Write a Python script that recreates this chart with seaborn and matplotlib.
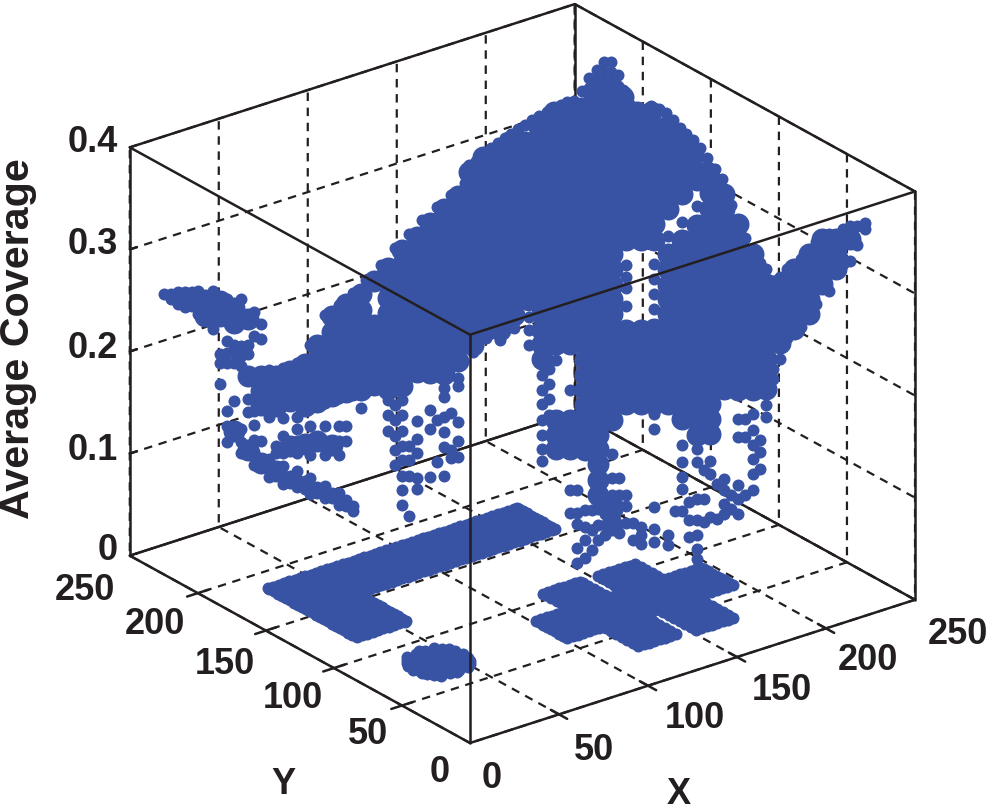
"""Average coverage over the X-Y field, drawn as a MATLAB-style 3D point cloud."""
import matplotlib
matplotlib.use("Agg")
import matplotlib.pyplot as plt
from mpl_toolkits.mplot3d import proj3d
import numpy as np
import pandas as pd
import seaborn as sns

x_ticks = [0, 50, 100, 150, 200, 250]
y_ticks = [0, 50, 100, 150, 200, 250]
z_ticks = [0, 0.1, 0.2, 0.3, 0.4]
x_tick_labels = ["0", "50", "100", "150", "200", "250"]
y_tick_labels = ["0", "50", "100", "150", "200", "250"]
z_tick_labels = ["0", "0.1", "0.2", "0.3", "0.4"]

# points on the floor (coverage 0): the L wall, the round post and the hash
arm_x = [28, 31, 34, 37, 40, 43, 46, 49, 52, 55, 58, 61, 64, 67, 70, 73, 76, 79, 82, 85, 88, 91, 94, 97, 100, 103, 106, 109, 112,
         115, 118, 121, 124, 127, 130, 133, 136, 139, 142, 145, 148, 151, 154, 157, 160, 163, 166, 168]
arm_y = [157, 160, 163, 166, 169, 172, 175, 178, 181, 184, 185]
foot_x = [28, 31, 34, 37, 40, 43, 46, 49, 52, 55, 56]
foot_y = [120, 123, 126, 129, 132, 135, 138, 141, 144, 147, 150, 153, 156]
bar1_x = [122, 125, 128, 131, 134, 137, 140, 143]
bar1_y = [36, 40, 44, 48, 52, 56, 60, 64, 68, 72, 76, 80, 84, 88, 92, 96, 100, 104, 106]
bar2_x = [153, 156, 159, 162, 165, 168, 171, 174]
bar2_y = [34, 38, 42, 46, 50, 54, 58, 62, 66, 70, 74, 78, 82, 86, 90, 94, 98, 102, 106]
cross_x = [102, 105, 108, 111, 114, 117, 120, 123, 126, 129, 132, 135, 138, 141, 144, 147, 150, 153, 156, 159, 162, 165, 168,
           171, 174, 177, 180, 183, 186, 189, 192, 195]
cross_y = [62, 65, 68, 71, 74, 77, 80, 83, 85]
post_x = [41, 31, 36, 41, 46, 51, 28, 31, 36, 41, 46, 51, 54, 27, 31, 36, 41, 46, 51, 55, 28, 31, 36, 41, 46, 51, 54, 31, 36, 41, 46, 51, 41,
          33, 38, 43, 48, 29, 33, 38, 43, 48, 53, 29, 33, 38, 43, 48, 53, 29, 33, 38, 43, 48, 53, 29, 33, 38, 43, 48, 53, 33, 38, 43, 48]
post_y = [63, 67, 67, 67, 67, 67, 72, 72, 72, 72, 72, 72, 72, 77, 77, 77, 77, 77, 77, 77, 82, 82, 82, 82, 82, 82, 82, 87, 87, 87, 87, 87, 91,
          64.5, 64.5, 64.5, 64.5, 69.5, 69.5, 69.5, 69.5, 69.5, 69.5, 74.5, 74.5, 74.5, 74.5, 74.5, 74.5,
          79.5, 79.5, 79.5, 79.5, 79.5, 79.5, 84.5, 84.5, 84.5, 84.5, 84.5, 84.5, 89.5, 89.5, 89.5, 89.5]

# front transect through the cloud
front_x = [0, 5, 10, 15, 20, 25, 30, 35, 40, 45, 50, 55, 60, 65, 70, 75, 80, 85, 90, 95, 100, 105, 110, 115, 120,
           125, 130, 135, 140, 145, 150, 155, 160, 165, 170, 175, 180, 185, 190, 195, 200, 205, 210, 215, 220, 225, 230, 235, 240, 245, 250]
front_y = [225, 221, 217, 214, 210, 206, 202, 199, 195, 191, 187, 184, 180, 176, 172, 169, 165, 161, 157, 154, 150, 146, 142, 139, 135,
           131, 127, 124, 120, 116, 112, 109, 105, 101, 97, 94, 90, 86, 82, 79, 75, 71, 67, 64, 60, 56, 52, 49, 45, 41, 37]
# dense parts of each column
front_dense = [
    [], [], [.268], [.268, .253], [.268, .253], [.261, .246, .14], [.25, .194, .122],
    [.194, .179, .165, .109], [.194, .179, .165, .101], [.199, .184, .17, .125], [.206, .191, .176, .165, .128],
    [.224, .209, .194, .179, .168, .13], [.252, .237, .223, .208, .193, .179, .174, .126],
    [.264, .249, .234, .22, .205, .19, .178], [.274, .259, .244, .229, .215, .2, .185, .18],
    [.286, .243, .228, .214, .199, .185], [.299, .284, .27, .255, .24, .225, .211, .196, .181],
    [.317, .302, .287, .272, .258, .243, .228, .214, .199, .184],
    [.33, .316, .301, .286, .272, .257, .242, .228, .213, .198],
    [.343, .328, .314, .299, .284, .269, .255, .24, .225, .211, .196],
    [.357, .342, .327, .313, .298, .283, .268, .254, .239, .224, .21, .195],
    [.37, .355, .34, .325, .311, .296, .281, .267, .252, .237, .223, .208],
    [.385, .371, .356, .341, .326, .312, .297, .282, .268, .253, .238, .224],
    [.385, .371, .356, .341, .326, .312, .297, .282, .268, .253, .238],
    [.385, .371, .356, .341, .326, .312, .297, .282, .268, .253, .238],
    [.385, .371, .356, .341, .326, .312, .297, .282, .268, .253],
    [.385, .371, .356, .341, .326, .312, .297, .282, .268],
    [.385, .371, .356, .341, .326, .312, .297, .282, .268, .253, .238, .224, .209],
    [.385, .371, .356, .341, .326, .312, .297, .282, .268, .253, .238, .224, .15, .135, .121],
    [.385, .371, .356, .341, .326, .312, .297, .282, .268, .253, .238, .224, .15, .135, .121],
    [.385, .371, .356, .341, .326, .312, .297, .282, .268, .253, .238, .224, .209, .194, .179, .165, .15, .135, .121],
    [.385, .371, .356, .341, .326, .312, .297, .282, .268, .253, .238, .224, .209, .194, .179, .165, .15, .135, .121, .106, .091, .076],
    [.385, .371, .356, .341, .326, .312, .297, .282, .268, .253, .238, .224, .209, .194, .179, .165, .15, .062, .047],
    [.385, .371, .356, .341, .326, .238, .224, .209, .194, .179, .165],
    [.385, .371, .356, .341, .326, .238, .224, .209, .194, .179, .165],
    [.385, .371, .356, .341, .326, .238, .224, .209, .194, .179, .165],
    [.385, .371, .356, .312, .297, .282, .268, .253, .238, .224, .209, .194, .179, .165],
    [.385, .371, .326, .312, .297, .282, .268, .253, .238, .224, .209, .194, .179, .165, .15],
    [.385, .341, .326, .312, .297, .282, .268, .253, .238, .224, .209, .194, .179, .165, .15, .135],
    [.385, .371, .356, .341, .326, .312, .297, .282, .268, .253, .238, .224, .209, .194, .179, .165, .15, .135],
    [.371, .356, .341, .326, .312, .297, .282, .268, .253, .238, .224, .209, .194, .179],
    [.341, .326, .312, .297, .282, .268, .253, .238, .224, .209, .194, .179],
    [.312, .297, .282, .268, .253, .238, .224, .209, .194, .179],
    [.282, .268, .253, .238, .224, .209, .194, .179],
    [.282, .268, .253, .238, .224],
    [.297, .282, .268, .253, .238],
    [.312, .297, .282, .268, .253],
    [.326, .312, .297, .282],
    [.326, .312, .297],
    [.326],
    [],
]
# single points of each column
front_single = [
    [.275], [.277, .27, .265], [.277], [], [.216, .207, .186], [.225, .217, .207, .17], [.225, .216, .172, .159],
    [.245, .23, .13], [.125, .118], [.096, .089], [.091, .083], [.085, .079], [.079, .074],
    [.145, .13, .072, .066], [.163], [], [.17, .155, .14], [.17, .155, .14, .125, .111, .096, .082, .067],
    [.15, .132, .118, .094, .083], [.16, .141, .094], [.182, .173, .153, .138, .124, .095],
    [.191, .184, .148, .13, .114], [.217], [.23], [.228], [.24], [.251, .238, .224],
    [.194, .179, .165, .15, .135, .121, .109], [.209], [.179, .081, .059], [.062, .045, .032, .015], [.062, .047, .032],
    [.116, .093, .076], [.302, .29, .279, .261, .076, .065, .049], [.045, .037, .028],
    [.302, .287, .273, .258, .155, .14, .064, .042, .03], [.33, .037, .027], [.343, .125, .108, .094, .082, .06],
    [.359, .121, .108, .072, .052, .037, .023, .013], [.109, .096, .054], [.091, .081, .067, .057],
    [.15, .133, .086, .072, .057], [.155, .14, .125, .111, .096, .081], [.297, .163, .152],
    [.289, .209], [], [], [.33], [], [.339, .305], [.342, .336],
]

# extra points between the front columns
between_x = [2.5, 7.5, 12.5, 17.5, 22.5, 27.5, 32.5, 37.5, 42.5, 47.5, 52.5, 57.5, 62.5, 67.5, 72.5, 77.5, 82.5, 87.5, 92.5, 97.5,
             102.5, 107.5, 137.5, 147.5, 152.5, 157.5, 162.5, 167.5, 182.5, 187.5, 192.5, 197.5, 202.5, 207.5, 212.5, 217.5,
             222.5, 227.5, 232.5, 237.5, 242.5, 247.5]
between_y = [223, 219, 216, 212, 208, 204, 201, 197, 193, 189, 186, 182, 178, 174, 171, 167, 163, 159, 156, 152,
             148, 144, 122, 114, 110, 107, 103, 99, 88, 84, 80, 77, 73, 69, 65, 62,
             58, 54, 50, 47, 43, 39]
between_single = [
    [.275, .27], [.277, .27, .262], [.277, .267, .255], [.277, .262, .24], [.27, .228, .217, .207, .16, .145, .13],
    [.27, .224, .214, .204, .142, .13, .119], [.256, .233, .159, .146, .131, .119, .107], [.2, .154, .113, .103, .095],
    [.202, .153, .135, .119, .106, .096, .088], [.207, .154, .142, .13, .119, .101, .093, .085],
    [.224, .162, .145, .13, .116, .094, .086, .078], [.253, .167, .145, .13, .116, .086, .079, .074],
    [.263, .172, .145, .13, .116, .079, .074, .067], [.275, .175, .067, .062], [.287], [.302],
    [.319, .165, .15, .135, .121, .106], [.333, .125, .111, .096, .057], [.346], [.359, .15, .109],
    [.371, .157, .121, .113], [.383], [.218, .2, .185, .17, .155], [.081, .059, .048, .025, .01], [.062, .042, .023],
    [.072, .057, .047, .037], [.093, .076, .065, .039], [.049, .032], [.06], [.069, .052, .035], [.101, .072, .05],
    [.086, .052], [.36, .076, .062], [.328, .15, .133, .076], [.303, .13, .118, .101], [.285, .199, .189],
    [.297, .229], [.307, .24], [.324, .263], [.331, .275], [.336, .302], [.339, .32],
]

# back transect, the ridge above the front columns
back_x = [160, 165, 170, 175, 180, 185, 190, 195, 200, 205, 210, 215, 220, 225, 230, 235, 240, 245, 250]
back_y = [210, 206, 202, 199, 195, 191, 187, 184, 180, 176, 172, 169, 165, 161, 157, 153, 150, 146, 142]
back_dense = [
    [.315], [.33, .315], [.33, .315], [.345, .33, .315], [.345, .33, .315], [.359, .345, .33, .315],
    [.374, .359, .345, .33, .315], [.374, .359, .345, .33, .315], [.374, .359, .345, .33, .315],
    [.388, .374, .359, .345, .33, .315], [.388, .374, .359, .345, .33, .315], [.388, .374, .359, .345, .33, .315],
    [.374, .359, .345, .33, .315], [.374, .359, .345, .33, .315], [.359, .345, .33, .315],
    [.345, .33, .315], [.33, .315], [.315], [],
]
back_single = [
    [.318, .322], [.334], [.344], [.352], [.361], [.37], [.378], [.383], [.383], [.4], [.4], [.395],
    [.377], [.38], [.373], [.358], [.346], [.328], [.308],
]
back_edge_x = [162.5, 167.5, 172.5, 177.5, 182.5, 187.5, 192.5, 197.5, 212.5, 217.5, 222.5, 227.5, 232.5, 237.5, 242.5, 247.5]
back_edge_y = [208, 204, 200, 197, 193, 189, 185, 182, 170, 167, 163, 159, 155, 152, 148, 144]
back_edge_z = [.326, .339, .349, .357, .366, .374, .381, .384, .396, .38, .376, .377, .366, .352, .338, .318]

# the narrow peak behind the ridge
peak_x = [217.5, 220, 222.5, 225, 227.5, 230, 232.5]
peak_y = [202, 200, 198, 196, 194, 192, 190]
peak_single = [
    [.368], [.381, .371, .362], [.389, .379, .37, .36], [.397, .387, .377, .368],
    [.397, .387, .377, .368], [.384, .374, .365], [.368],
]


def columns_to_frame(xs, ys, zs, kind):
    """One row per point from per-column z lists."""
    rows = [(x, y, z, kind) for x, y, col in zip(xs, ys, zs) for z in col]
    return pd.DataFrame(rows, columns=["x", "y", "z", "kind"])


def floor_to_frame(xs, ys):
    """Floor points: every x of a block paired with every y, coverage 0."""
    gx, gy = np.meshgrid(xs, ys)
    return pd.DataFrame({"x": gx.ravel(), "y": gy.ravel(), "z": 0.0, "kind": "single"})


cloud = pd.concat([
    floor_to_frame(arm_x, arm_y),
    floor_to_frame(foot_x, foot_y),
    floor_to_frame(bar1_x, bar1_y),
    floor_to_frame(bar2_x, bar2_y),
    floor_to_frame(cross_x, cross_y),
    pd.DataFrame({"x": post_x, "y": post_y, "z": 0.0, "kind": "single"}),
    columns_to_frame(front_x, front_y, front_dense, "dense"),
    columns_to_frame(front_x, front_y, front_single, "single"),
    columns_to_frame(between_x, between_y, between_single, "single"),
    columns_to_frame(back_x, back_y, back_dense, "dense"),
    columns_to_frame(back_x, back_y, back_single, "single"),
    pd.DataFrame({"x": back_edge_x, "y": back_edge_y, "z": back_edge_z, "kind": "single"}),
    columns_to_frame(peak_x, peak_y, peak_single, "single"),
], ignore_index=True)

sns.set_theme(style="white")
plt.rcParams["font.family"] = ["Liberation Sans", "DejaVu Sans"]
blue = sns.color_palette(["#3953A4"])[0]
ink = "#231F20"

W, H = 989, 811
fig = plt.figure(figsize=(W / 100, H / 100), dpi=100, facecolor="white")
ax = fig.add_axes([0, 0, 1, 1], projection="3d", computed_zorder=False)
ax.set_proj_type("ortho")
ax.view_init(elev=24.9, azim=-127.4)
ax.set_box_aspect((560, 560, 450), zoom=1.0)
ax.set_xlim(0, 250)
ax.set_ylim(0, 250)
ax.set_zlim(0, 0.4)
ax.set_xticks(x_ticks)
ax.set_yticks(y_ticks)
ax.set_zticks(z_ticks)
ax.set_xticklabels([])
ax.set_yticklabels([])
ax.set_zticklabels([])
ax.patch.set_alpha(0)

for axis in (ax.xaxis, ax.yaxis, ax.zaxis):
    axis.pane.set_fill(False)
    axis.pane.set_edgecolor((1, 1, 1, 0))
    axis.line.set_color((1, 1, 1, 0))
    axis._axinfo["tick"]["inward_factor"] = 0
    axis._axinfo["tick"]["outward_factor"] = 0
    axis._axinfo["grid"].update(color=ink, linewidth=1.6, linestyle=(0, (3.8, 3)))

# move the square axes so the box lands where it should in the figure


def to_px(x, y, z):
    px, py, _ = proj3d.proj_transform(x, y, z, ax.get_proj())
    return ax.transData.transform((px, py))


fig.canvas.draw()
o = to_px(0, 0, 0)
ex = to_px(250, 0, 0)
scale = 445 / (ex[0] - o[0])
pos = ax.get_position()
side = pos.width * scale
ax.set_position([0, 0, side, side * W / H])
fig.canvas.draw()
o = to_px(0, 0, 0)
ax.set_position([(470 - o[0]) / W, ((H - 743) - o[1]) / H, side, side * W / H])

# the box: back edges stay behind the cloud, front edges go over it
back_edges = [
    ((0, 250), (250, 250), (0, 0)), ((250, 250), (0, 250), (0, 0)),
    ((250, 250), (250, 250), (0, 0.4)), ((0, 250), (250, 250), (0.4, 0.4)), ((250, 250), (0, 250), (0.4, 0.4)),
]
front_edges = [
    ((0, 250), (0, 0), (0, 0)), ((0, 0), (0, 250), (0, 0)), ((0, 0), (0, 0), (0, 0.4)),
    ((0, 250), (0, 0), (0.4, 0.4)), ((0, 0), (0, 250), (0.4, 0.4)),
    ((0, 0), (250, 250), (0, 0.4)), ((250, 250), (0, 0), (0, 0.4)),
]
for ex_, ey_, ez_ in back_edges:
    ax.plot(ex_, ey_, ez_, color=ink, lw=1.8, zorder=1)

for kind, diameter in (("dense", 22), ("single", 12)):
    part = cloud[cloud["kind"] == kind]
    ax.scatter(part["x"], part["y"], part["z"], s=(diameter * 0.72) ** 2, color=blue,
               linewidths=0, depthshade=False, alpha=1, zorder=2)

for ex_, ey_, ez_ in front_edges:
    ax.plot(ex_, ey_, ez_, color=ink, lw=1.8, zorder=3)

# tick marks cross the floor edges
for t in x_ticks[1:-1]:
    ax.plot((t, t), (-6, 6), (0, 0), color=ink, lw=1.8, zorder=3)
for t in y_ticks[1:-1]:
    ax.plot((-6, 6), (t, t), (0, 0), color=ink, lw=1.8, zorder=3)
for t in z_ticks[1:-1]:
    ax.plot((0, 4), (250, 250), (t, t), color=ink, lw=1.8, zorder=3)

ax.set_xlim(0, 250)
ax.set_ylim(0, 250)
ax.set_zlim(0, 0.4)

label_font = dict(fontsize=26, fontweight="bold", color=ink, va="center")
for label, px, py in zip(z_tick_labels, [118, 118, 118, 118, 118], [550, 450, 348, 245, 143]):
    fig.text(px / W, 1 - py / H, label, ha="right", **label_font)
for label, px, py in zip(y_tick_labels, [440, 368, 293, 225, 155, 85], [772, 735, 698, 665, 625, 590]):
    fig.text(px / W, 1 - py / H, label, ha="center", **label_font)
for label, px, py in zip(x_tick_labels, [492, 594, 695, 782, 868, 958], [778, 750, 718, 690, 660, 635]):
    fig.text(px / W, 1 - py / H, label, ha="center", **label_font)

fig.text(679 / W, 1 - 795 / H, "X", ha="center", **label_font)
fig.text(283 / W, 1 - 784 / H, "Y", ha="center", **label_font)
fig.text(18 / W, 1 - 339 / H, "Average Coverage", rotation=90, ha="center", fontsize=29.7,
         fontweight="bold", color=ink, va="center")

fig.savefig("out.png", dpi=100)
plt.close(fig)
